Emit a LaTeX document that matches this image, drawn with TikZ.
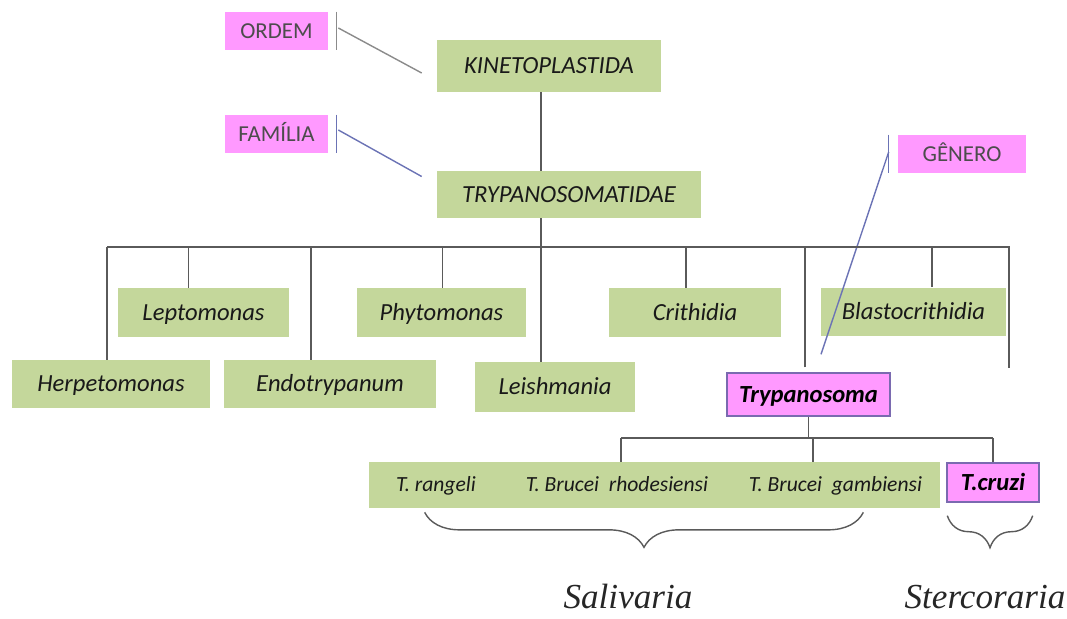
\documentclass[tikz,border=0pt]{standalone}
\usepackage{fontspec}
\setmainfont{Carlito}
\newfontfamily\tnrfont{Liberation Serif}
\usetikzlibrary{calc,decorations.pathreplacing}
\definecolor{taxgreen}{HTML}{C4D79B}
\definecolor{rankpink}{HTML}{FF99FF}
\definecolor{rankline}{HTML}{6B73B5}
\definecolor{treegray}{HTML}{5A5A5A}
\definecolor{boxedge}{HTML}{7A6AB0}

\begin{document}
\begin{tikzpicture}[
  x=0.02cm, y=-0.02cm,
  taxon/.style={fill=taxgreen, font=\fontsize{14}{16}\selectfont\itshape, text=black!90,
                inner sep=0pt, minimum height=0.98cm, text height=10pt, text depth=1pt},
  species/.style={taxon, font=\fontsize{12.3}{14}\selectfont\itshape, minimum height=0.92cm,
                  text height=8.8pt, text depth=0.9pt},
  picked/.style={fill=rankpink, draw=boxedge, line width=0.8pt,
                 font=\fontsize{14}{16}\selectfont\bfseries\itshape, inner sep=0pt,
                 text height=10pt, text depth=1pt},
  rank/.style={fill=rankpink, font=\fontsize{13}{15}\selectfont, text=black!70,
               minimum width=2.06cm, minimum height=0.76cm, inner sep=0pt,
               text height=9.3pt, text depth=0.9pt},
  tree/.style={treegray, line width=0.9pt},
  pointer/.style={rankline, line width=0.8pt},
  group/.style={font=\fontsize{20}{24}\selectfont\tnrfont\itshape, text=black!85, anchor=base},
]
  \useasboundingbox (0,0) rectangle (1067,618);

  % ranks
  \node[rank] (ordem)   at (276.5,31)  {ORDEM};
  \node[rank] (familia) at (276.5,134) {FAMÍLIA};
  \node[rank, minimum width=2.56cm] (genero) at (962,154) {GÊNERO};

  % order and family
  \node[taxon, minimum width=4.48cm, minimum height=1.04cm] (kineto) at (549,66) {KINETOPLASTIDA};
  \node[taxon, minimum width=5.28cm, minimum height=0.94cm] (trypa) at (569,194.5) {TRYPANOSOMATIDAE};

  % genera
  \node[taxon, minimum width=3.42cm] (lepto)  at (203.5,312.5) {Leptomonas};
  \node[taxon, minimum width=3.38cm] (phyto)  at (441.5,312.5) {Phytomonas};
  \node[taxon, minimum width=3.44cm] (crith)  at (695,312.5)   {Crithidia};
  \node[taxon, minimum width=3.70cm] (blasto) at (913.5,312)   {Blastocrithidia};
  \node[taxon, minimum width=3.96cm, minimum height=0.96cm] (herpe) at (111,384) {Herpetomonas};
  \node[taxon, minimum width=4.24cm, minimum height=0.96cm] (endo)  at (330,384) {Endotrypanum};
  \node[taxon, minimum width=3.20cm, minimum height=1.00cm] (leish) at (555,387) {Leishmania};
  \node[picked, minimum width=3.26cm, minimum height=0.86cm] (trypanosoma) at (808.5,394.5) {Trypanosoma};

  % species
  \node[species, minimum width=2.68cm] (rangeli) at (436,485)   {T. rangeli};
  \node[species, minimum width=4.56cm] (rhodes)  at (617,485)   {T. Brucei\ \ rhodesiensi};
  \node[species, minimum width=4.18cm] (gamb)    at (835.5,485) {T. Brucei\ \ gambiensi};
  \node[picked, minimum width=1.84cm, minimum height=0.78cm] (cruzi) at (993,482.5) {T.cruzi};

  \node[group] (sali)  at (628,608) {Salivaria};
  \node[group] (sterc) at (985,608) {Stercoraria};

  % rank pointers
  \draw[treegray!70, line width=0.8pt] ($(ordem.north east)+(8,0)$) -- ($(ordem.south east)+(8,0)$);
  \draw[treegray!70, line width=0.8pt] ($(ordem.east)+(10,-3)$) -- ($(kineto.west)+(-15,7)$);
  \draw[pointer] ($(familia.north east)+(8,0)$) -- ($(familia.south east)+(8,0)$);
  \draw[pointer] ($(familia.east)+(10,-4)$) -- ($(trypa.west)+(-15,-18)$);
  \coordinate (gtip) at ($(trypanosoma.north)+(12.5,-18)$);
  \draw[pointer] ($(genero.north west)+(-9,0)$) -- ($(genero.south west)+(-9,0)$);
  \draw[pointer] ($(genero.west)+(-9,-2)$) -- (gtip);

  % tree
  \coordinate (hub)  at (541,247);
  \coordinate (busL) at (107,247);
  \coordinate (busR) at (1009,247);
  \coordinate (tail) at (1009,368);
  \draw[tree] (kineto.south -| hub) -- (trypa.north -| hub);
  \draw[tree] (trypa.south -| hub) -- (hub);
  \draw[tree] (busL) -- (busR) -- (tail);
  \foreach \n/\dx in {herpe/-4, lepto/-15, endo/-19, phyto/1, leish/-14, crith/-9, blasto/18.5}
    \draw[tree] (\n.north) ++(\dx,0) coordinate (top) -- (top |- hub);
  \draw[tree] (trypanosoma.north) ++(-3.5,-5) coordinate (top) -- (top |- hub);

  \coordinate (hub2) at (808.5,438);
  \coordinate (sbL)  at (621,438);
  \coordinate (sbR)  at (993,438);
  \draw[tree] (trypanosoma.south) -- (hub2);
  \draw[tree] (sbL) -- (sbR);
  \foreach \n/\dx in {rhodes/4, gamb/-22.5, cruzi/0}
    \draw[tree] (\n.north) ++(\dx,0) coordinate (top) -- (top |- hub2);

  % braces
  \draw[tree, line width=0.8pt, decorate, decoration={brace, mirror, amplitude=0.7cm}]
    ($(rangeli.south west)+(56,4)$) -- ($(gamb.south east)+(-77,4)$);
  \draw[tree, line width=0.8pt, decorate, decoration={brace, mirror, amplitude=0.64cm}]
    ($(cruzi.south west)+(1,13)$) -- ($(cruzi.south east)+(-7,13)$);
\end{tikzpicture}
\end{document}
